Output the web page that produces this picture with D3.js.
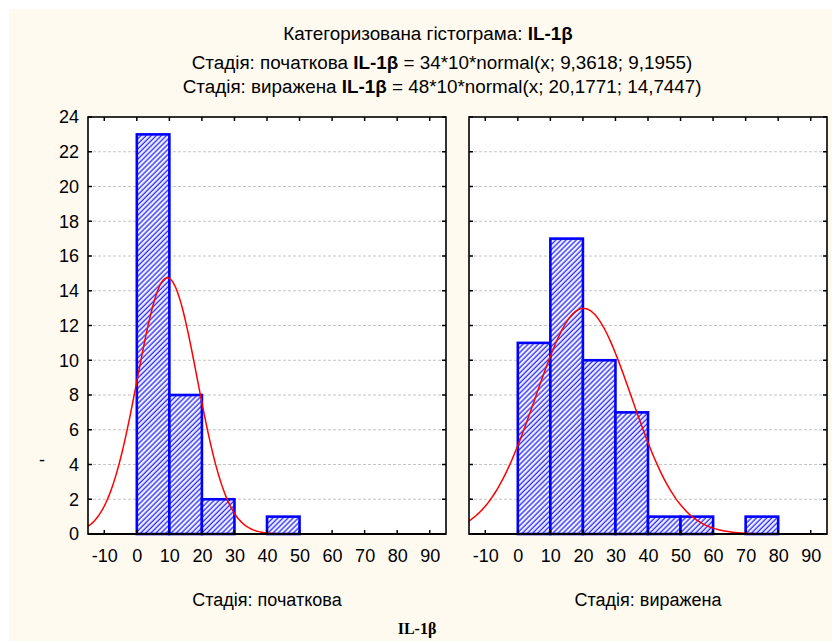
<!DOCTYPE html>
<html><head><meta charset="utf-8">
<script src="https://cdn.jsdelivr.net/npm/d3@7"></script>
<style>
html,body{margin:0;padding:0;background:#fff;}
svg{display:block;font-family:"Liberation Sans",Arial,sans-serif;}
</style></head>
<body>
<svg id="chart" width="832" height="641"></svg>
<script>
// ---- data ----
const stages = ["початкова", "виражена"];
const binEdges = [0, 10, 20, 30, 40, 50, 60, 70, 80];
const countsInitial = [23, 8, 2, 0, 1, 0, 0, 0];
const countsSevere = [11, 17, 10, 7, 1, 1, 0, 1];
const nObs = [34, 48];
const means = [9.3618, 20.1771];
const sds = [9.1955, 14.7447];
const binWidth = 10;
const xTicks = [-10, 0, 10, 20, 30, 40, 50, 60, 70, 80, 90];
const yTicks = [0, 2, 4, 6, 8, 10, 12, 14, 16, 18, 20, 22, 24];
const xDomain = [-15, 95];
const yDomain = [0, 24];
const titleLines = [
  [["Категоризована гістограма: ", false], ["IL-1β", true]],
  [["Стадія: початкова ", false], ["IL-1β", true], [" = 34*10*normal(x; 9,3618; 9,1955)", false]],
  [["Стадія: виражена ", false], ["IL-1β", true], [" = 48*10*normal(x; 20,1771; 14,7447)", false]]
];
const countsByStage = [countsInitial, countsSevere];

// ---- layout ----
const FS = 18, TFS = 18;
const svg = d3.select("#chart");
svg.append("rect").attr("x", 9).attr("y", 9).attr("width", 823).attr("height", 632).attr("fill", "#fffaf0");

const defs = svg.append("defs");
const pat = defs.append("pattern").attr("id", "hatch").attr("patternUnits", "userSpaceOnUse")
  .attr("width", 3.6).attr("height", 3.6).attr("patternTransform", "rotate(45)");
pat.append("rect").attr("width", 3.6).attr("height", 3.6).attr("fill", "#ffffff");
pat.append("line").attr("x1", 1.2).attr("y1", 0).attr("x2", 1.2).attr("y2", 3.6)
  .attr("stroke", "#3333ff").attr("stroke-width", 1.5);

const panels = [{x0: 88, x1: 446}, {x0: 469, x1: 827}];
const plotTop = 117, plotBottom = 534;
const y = d3.scaleLinear().domain(yDomain).range([plotBottom, plotTop]);

function pdf(x, m, s) { return Math.exp(-0.5 * ((x - m) / s) ** 2) / (s * Math.sqrt(2 * Math.PI)); }

panels.forEach((p, i) => {
  const x = d3.scaleLinear().domain(xDomain).range([p.x0, p.x1]);
  const g = svg.append("g");
  g.append("rect").attr("x", p.x0).attr("y", plotTop).attr("width", p.x1 - p.x0).attr("height", plotBottom - plotTop).attr("fill", "#fff");
  const cid = "clip" + i;
  defs.append("clipPath").attr("id", cid).append("rect").attr("x", p.x0).attr("y", plotTop).attr("width", p.x1 - p.x0).attr("height", plotBottom - plotTop);
  // grid
  g.selectAll(".grid").data(yTicks.filter(t => t > 0 && t < 24)).join("line")
    .attr("x1", p.x0).attr("x2", p.x1).attr("y1", d => y(d)).attr("y2", d => y(d))
    .attr("stroke", "#c4c4c4").attr("stroke-width", 1).attr("stroke-dasharray", "3,2");
  // bars
  const bars = countsByStage[i].map((c, k) => ({x0: binEdges[k], x1: binEdges[k + 1], c})).filter(d => d.c > 0);
  g.selectAll(".bar").data(bars).join("rect")
    .attr("x", d => x(d.x0)).attr("width", d => x(d.x1) - x(d.x0))
    .attr("y", d => y(d.c)).attr("height", d => y(0) - y(d.c))
    .attr("fill", "url(#hatch)").attr("stroke", "#0000ff").attr("stroke-width", 2.6);
  // fitted curve
  const xs = d3.range(xDomain[0], xDomain[1] + 0.001, 0.5);
  const line = d3.line().x(d => x(d)).y(d => y(nObs[i] * binWidth * pdf(d, means[i], sds[i])));
  g.append("path").datum(xs).attr("d", line).attr("fill", "none").attr("stroke", "#ff0000")
    .attr("stroke-width", 1.5).attr("clip-path", `url(#${cid})`);
  // frame
  g.append("rect").attr("x", p.x0).attr("y", plotTop).attr("width", p.x1 - p.x0).attr("height", plotBottom - plotTop)
    .attr("fill", "none").attr("stroke", "#000").attr("stroke-width", 1.6);
  g.append("line").attr("x1", p.x0).attr("x2", p.x1).attr("y1", plotBottom).attr("y2", plotBottom).attr("stroke", "#000").attr("stroke-width", 2.2);
  // ticks inward
  const tl = 4;
  xTicks.forEach(t => {
    g.append("line").attr("x1", x(t)).attr("x2", x(t)).attr("y1", plotBottom).attr("y2", plotBottom - tl).attr("stroke", "#000").attr("stroke-width", 1.5);
    g.append("line").attr("x1", x(t)).attr("x2", x(t)).attr("y1", plotTop).attr("y2", plotTop + tl).attr("stroke", "#000").attr("stroke-width", 1.5);
  });
  yTicks.forEach(t => {
    g.append("line").attr("x1", p.x0).attr("x2", p.x0 + tl).attr("y1", y(t)).attr("y2", y(t)).attr("stroke", "#000").attr("stroke-width", 1.5);
    g.append("line").attr("x1", p.x1).attr("x2", p.x1 - tl).attr("y1", y(t)).attr("y2", y(t)).attr("stroke", "#000").attr("stroke-width", 1.5);
  });
  // x tick labels
  const xAxis = d3.axisBottom(x).tickValues(xTicks).tickSize(0).tickPadding(0).tickFormat(d => String(d));
  const ax = svg.append("g").attr("transform", `translate(0,${plotBottom + 15})`).call(xAxis);
  ax.select(".domain").remove();
  ax.selectAll("text").attr("font-size", TFS).attr("fill", "#000").attr("font-family", "Liberation Sans, Arial, sans-serif");
  // panel label
  svg.append("text").attr("x", (p.x0 + p.x1) / 2).attr("y", 606).attr("text-anchor", "middle")
    .attr("font-size", FS).text("Стадія: " + stages[i]);
  if (i === 0) {
    const yAxis = d3.axisLeft(y).tickValues(yTicks).tickSize(0).tickPadding(0);
    const ay = svg.append("g").attr("transform", `translate(${p.x0 - 9},0)`).call(yAxis);
    ay.select(".domain").remove();
    ay.selectAll("text").attr("font-size", TFS).attr("fill", "#000").attr("font-family", "Liberation Sans, Arial, sans-serif");
  }
});

// titles (lines 2-3 left-aligned at the reference start positions, font scaled to match)
const titleY = [40, 69, 93];
const titleX = [428, 191.7, 182.7];
const titles = titleLines.map((segs, k) => {
  const t = svg.append("text").attr("x", titleX[k]).attr("y", titleY[k]).attr("font-size", FS)
    .attr("text-anchor", k === 0 ? "middle" : "start");
  segs.forEach(s => t.append("tspan").attr("font-weight", s[1] ? "bold" : "normal").text(s[0]));
  return t;
});
const w = titles[1].select("tspan").node().getComputedTextLength();
const scaledFS = FS * 161.7 / w;
titles.forEach(t => t.attr("font-size", scaledFS));

svg.append("text").attr("x", 417).attr("y", 634).attr("text-anchor", "middle")
  .attr("font-family", "Liberation Serif, Times New Roman, serif").attr("font-weight", "bold").attr("font-size", 16).text("IL-1β");
svg.append("text").attr("x", 42).attr("y", 466).attr("text-anchor", "middle").attr("font-size", FS).text("-");
</script>
</body></html>
